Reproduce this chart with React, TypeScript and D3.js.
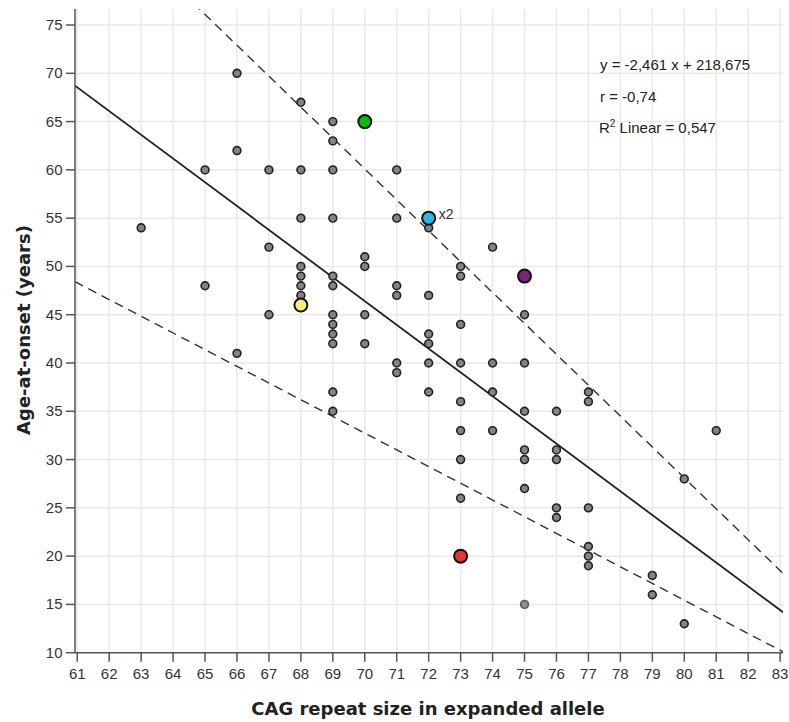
import React from "react";
import * as d3 from "d3";

const xTicks = d3.range(61, 84);
const yTicks = d3.range(10, 80, 5);

// grey observations: [CAG, age-at-onset]
const cagValues = [
  63, 65, 65, 66, 66, 66, 67, 67, 67,
  68, 68, 68, 68, 68, 68, 68,
  69, 69, 69, 69, 69, 69, 69, 69, 69, 69, 69, 69,
  70, 70, 70, 70,
  71, 71, 71, 71, 71, 71,
  72, 72, 72, 72, 72, 72,
  73, 73, 73, 73, 73, 73, 73, 73,
  74, 74, 74, 74,
  75, 75, 75, 75, 75, 75, 75,
  76, 76, 76, 76, 76,
  77, 77, 77, 77, 77, 77,
  79, 79, 80, 80, 81,
];
const ageValues = [
  54, 60, 48, 70, 62, 41, 60, 52, 45,
  67, 60, 55, 50, 49, 48, 47,
  65, 63, 60, 55, 49, 48, 45, 44, 43, 42, 37, 35,
  51, 50, 45, 42,
  60, 55, 48, 47, 40, 39,
  54, 47, 43, 42, 40, 37,
  50, 49, 44, 40, 36, 33, 30, 26,
  52, 40, 37, 33,
  45, 40, 35, 31, 30, 27, 15,
  35, 31, 30, 25, 24,
  37, 36, 25, 21, 20, 19,
  18, 16, 28, 13, 33,
];
const faintIndex = [62]; // the lighter point at 75 / 15

// highlighted cases
const hlCag = [70, 72, 68, 75, 73];
const hlAge = [65, 55, 46, 49, 20];
const hlColor = ["#00c000", "#29b8ea", "#f7f06e", "#7a2380", "#e8343c"];

const fitSlope = -2.461;
const fitIntercept = 218.675;
const upperX = [61, 83];
const upperY = [88.9, 18.5];
const lowerX = [61, 83];
const lowerY = [48.3, 10.25];

export default function App() {
  const W = 789, H = 722;
  const L = 75, R = 783, T = 9, B = 652.7;
  const x = d3.scaleLinear().domain([60.93, 83.09]).range([L, R]);
  const y = d3.scaleLinear().domain([10, 76.66]).range([B, T]);
  const line = d3.line<[number, number]>().x((d) => x(d[0])).y((d) => y(d[1]));
  const xs = x.domain();
  const fitFull: [number, number][] = xs.map((v) => [v, fitSlope * v + fitIntercept]);
  const interp = (X: number[], Y: number[], v: number) =>
    Y[0] + ((Y[1] - Y[0]) * (v - X[0])) / (X[1] - X[0]);
  const upPts: [number, number][] = xs.map((v) => [v, interp(upperX, upperY, v)]);
  const loPts: [number, number][] = xs.map((v) => [v, interp(lowerX, lowerY, v)]);
  const font = "'Liberation Sans', Arial, sans-serif";
  const boldFont = "'DejaVu Sans', Verdana, sans-serif";

  return (
    <svg
      width={W}
      height={H}
      style={{ position: "absolute", left: 0, top: 0, background: "#fff" }}
      fontFamily={font}
    >
      <defs>
        <clipPath id="plot">
          <rect x={L} y={T} width={R - L} height={B - T} />
        </clipPath>
      </defs>
      <rect x={0} y={0} width={W} height={H} fill="#fff" />
      {/* grid */}
      <g stroke="#e9e9e9" strokeWidth={1.5}>
        {xTicks.map((t) => (
          <line key={"gx" + t} x1={x(t)} x2={x(t)} y1={T} y2={B} />
        ))}
        {yTicks.filter((t) => t > 10).map((t) => (
          <line key={"gy" + t} x1={L} x2={R} y1={y(t)} y2={y(t)} />
        ))}
      </g>
      {/* lines */}
      <g clipPath="url(#plot)" fill="none">
        <path d={line(fitFull) || ""} stroke="#222" strokeWidth={1.8} />
        <path d={line(upPts) || ""} stroke="#333" strokeWidth={1.4} strokeDasharray="9,6" />
        <path d={line(loPts) || ""} stroke="#333" strokeWidth={1.4} strokeDasharray="9,6" />
      </g>
      {/* points */}
      <g>
        {cagValues.map((c, i) => {
          const faint = faintIndex.includes(i);
          return (
            <circle
              key={"p" + i}
              cx={x(c)}
              cy={y(ageValues[i])}
              r={3.9}
              fill={faint ? "#8f8f8f" : "#848484"}
              stroke={faint ? "#5a5a5a" : "#222"}
              strokeWidth={1.6}
            />
          );
        })}
        {hlCag.map((c, i) => (
          <circle
            key={"h" + i}
            cx={x(c)}
            cy={y(hlAge[i])}
            r={6.5}
            fill={hlColor[i]}
            stroke="#111"
            strokeWidth={2}
          />
        ))}
      </g>
      <text x={x(72) + 10} y={y(55) + 1} fontSize={14} fill="#333">
        x2
      </text>
      {/* axes */}
      <g stroke="#555" strokeWidth={1.5}>
        <line x1={L} x2={L} y1={T} y2={B} />
        <line x1={L} x2={R} y1={B} y2={B} />
        {yTicks.map((t) => (
          <line key={"ty" + t} x1={L - 9} x2={L} y1={y(t)} y2={y(t)} />
        ))}
        {xTicks.map((t) => (
          <line key={"tx" + t} x1={x(t)} x2={x(t)} y1={B} y2={B + 9} />
        ))}
      </g>
      <g fontSize={15} fill="#333">
        {yTicks.map((t) => (
          <text key={"ly" + t} x={L - 12.5} y={y(t) + 5} textAnchor="end">
            {t}
          </text>
        ))}
        {xTicks.map((t) => (
          <text key={"lx" + t} x={x(t)} y={B + 26.5} textAnchor="middle">
            {t}
          </text>
        ))}
      </g>
      <text
        x={428}
        y={715}
        textAnchor="middle"
        fontFamily={boldFont}
        fontWeight="bold"
        fontSize={18}
        fill="#222"
      >
        CAG repeat size in expanded allele
      </text>
      <text
        transform="translate(30,330) rotate(-90)"
        textAnchor="middle"
        fontFamily={boldFont}
        fontWeight="bold"
        fontSize={18}
        fill="#222"
      >
        Age-at-onset (years)
      </text>
      {/* annotation */}
      <g fontSize={15} fill="#222">
        <text x={600} y={70}>y = -2,461 x + 218,675</text>
        <text x={600} y={102}>r = -0,74</text>
        <text x={599} y={133}>
          R<tspan fontSize={10} dy={-6}>2</tspan>
          <tspan dy={6}> Linear = 0,547</tspan>
        </text>
      </g>
    </svg>
  );
}
